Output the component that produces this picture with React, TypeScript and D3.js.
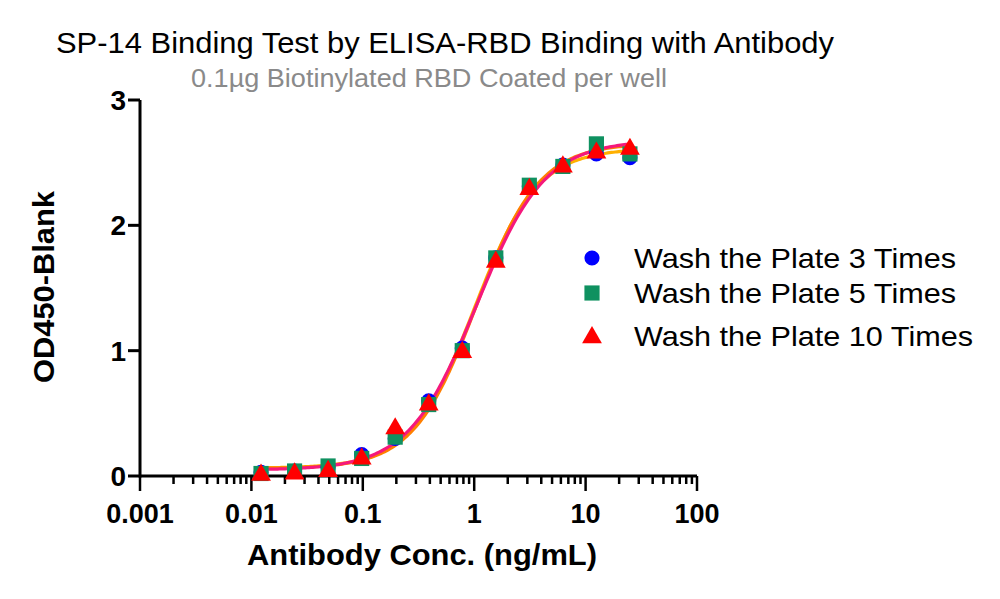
import React, { useEffect, useRef } from 'react';
import * as d3 from 'd3';

// antibody concentrations (ng/mL), 2-fold dilution series
const conc = [0.0122, 0.0244, 0.0488, 0.0977, 0.1953, 0.3906, 0.7813, 1.5625, 3.125, 6.25, 12.5, 25];

// OD450 - blank
const wash3 = [0.03, 0.04, 0.07, 0.17, 0.30, 0.60, 1.02, 1.74, 2.31, 2.48, 2.57, 2.54];
const wash5 = [0.02, 0.04, 0.08, 0.14, 0.31, 0.57, 1.00, 1.74, 2.32, 2.47, 2.65, 2.57];
const wash10 = [0.02, 0.03, 0.05, 0.15, 0.39, 0.58, 1.00, 1.72, 2.30, 2.48, 2.59, 2.62];

const seriesNames = ['Wash the Plate 3 Times', 'Wash the Plate 5 Times', 'Wash the Plate 10 Times'];
const symbolColors = ['#0000ff', '#0f9160', '#ff0000'];
const curveColors = ['#ffb000', '#ff7f00', '#f5187c'];

const xTicks = [0.001, 0.01, 0.1, 1, 10, 100];
const yTicks = [0, 1, 2, 3];

// 4-parameter logistic
const logistic = (p: number[], x: number) =>
  p[0] + (p[1] - p[0]) / (1 + Math.pow(10, (p[2] - Math.log10(x)) * p[3]));

// small Nelder-Mead least squares fit
function fit4PL(xs: number[], ys: number[]) {
  const sse = (p: number[]) => xs.reduce((s, x, i) => s + (ys[i] - logistic(p, x)) ** 2, 0);
  const start = [d3.min(ys)!, d3.max(ys)!, 0, 1];
  let simplex = [start];
  for (let i = 0; i < 4; i++) {
    const p = start.slice();
    p[i] += i === 2 ? 0.5 : i === 3 ? 0.3 : 0.2;
    simplex.push(p);
  }
  let vals = simplex.map(sse);
  for (let iter = 0; iter < 2000; iter++) {
    const order = d3.range(5).sort((a, b) => vals[a] - vals[b]);
    simplex = order.map(i => simplex[i]);
    vals = order.map(i => vals[i]);
    const centroid = [0, 1, 2, 3].map(j => d3.mean(simplex.slice(0, 4), p => p[j])!);
    const worst = simplex[4];
    const pt = (t: number) => centroid.map((c, j) => c + t * (worst[j] - c));
    const r = pt(-1), fr = sse(r);
    if (fr < vals[0]) {
      const e = pt(-2), fe = sse(e);
      if (fe < fr) { simplex[4] = e; vals[4] = fe; } else { simplex[4] = r; vals[4] = fr; }
    } else if (fr < vals[3]) {
      simplex[4] = r; vals[4] = fr;
    } else {
      const c = pt(0.5), fc = sse(c);
      if (fc < vals[4]) { simplex[4] = c; vals[4] = fc; }
      else {
        for (let i = 1; i < 5; i++) {
          simplex[i] = simplex[i].map((v, j) => simplex[0][j] + 0.5 * (v - simplex[0][j]));
          vals[i] = sse(simplex[i]);
        }
      }
    }
  }
  return simplex[d3.minIndex(vals)];
}

const App: React.FC = () => {
  const svgRef = useRef<SVGSVGElement>(null);

  useEffect(() => {
    if (!svgRef.current) return;
    const svg = d3.select(svgRef.current);
    svg.selectAll('*').remove();

    const x = d3.scaleLog().domain([0.001, 100]).range([140, 697]);
    const y = d3.scaleLinear().domain([0, 3]).range([476, 100]);
    const font = 'Arial, "Liberation Sans", Helvetica, sans-serif';

    // titles
    svg.append('text').attr('x', 56).attr('y', 53).attr('textLength', 778)
      .attr('lengthAdjust', 'spacingAndGlyphs')
      .style('font-family', font).style('font-size', '29px').attr('fill', '#000')
      .text('SP-14 Binding Test by ELISA-RBD Binding with Antibody');
    svg.append('text').attr('x', 191).attr('y', 87).attr('textLength', 476)
      .attr('lengthAdjust', 'spacingAndGlyphs')
      .style('font-family', font).style('font-size', '25px').attr('fill', '#8a8a8a')
      .text('0.1\u00b5g Biotinylated RBD Coated per well');

    // axes
    const ax = svg.append('g').attr('stroke', '#000').attr('stroke-width', 3).attr('fill', 'none');
    ax.append('line').attr('x1', x(0.001)).attr('x2', x(100)).attr('y1', y(0)).attr('y2', y(0));
    ax.append('line').attr('x1', x(0.001)).attr('x2', x(0.001)).attr('y1', y(3)).attr('y2', y(0) + 1.5);
    yTicks.forEach(t => {
      ax.append('line').attr('x1', 128).attr('x2', x(0.001)).attr('y1', y(t)).attr('y2', y(t));
    });
    const minor: number[] = [];
    for (let e = -3; e < 2; e++) for (let m = 2; m <= 9; m++) minor.push(m * Math.pow(10, e));
    minor.forEach(t => {
      ax.append('line').attr('x1', x(t)).attr('x2', x(t)).attr('y1', y(0)).attr('y2', y(0) + 8)
        .attr('stroke-width', 2.5);
    });
    xTicks.forEach(t => {
      ax.append('line').attr('x1', x(t)).attr('x2', x(t)).attr('y1', y(0)).attr('y2', y(0) + 15)
        .attr('stroke-width', 2.5);
    });

    svg.append('g').selectAll('text').data(yTicks).join('text')
      .attr('x', 126).attr('y', d => y(d) + 10).attr('text-anchor', 'end')
      .style('font-family', font).style('font-size', '28px').style('font-weight', 'bold')
      .text(d => d);
    svg.append('g').selectAll('text').data(xTicks).join('text')
      .attr('x', d => x(d)).attr('y', 523).attr('text-anchor', 'middle')
      .style('font-family', font).style('font-size', '27px').style('font-weight', 'bold')
      .text(d => String(d));

    svg.append('text').attr('x', 422).attr('y', 565).attr('text-anchor', 'middle')
      .attr('textLength', 350).attr('lengthAdjust', 'spacingAndGlyphs')
      .style('font-family', font).style('font-size', '30px').style('font-weight', 'bold')
      .text('Antibody Conc. (ng/mL)');
    svg.append('text').attr('transform', 'translate(54,287) rotate(-90)').attr('text-anchor', 'middle')
      .attr('textLength', 192).attr('lengthAdjust', 'spacingAndGlyphs')
      .style('font-family', font).style('font-size', '29px').style('font-weight', 'bold')
      .text('OD450-Blank');

    const all = [wash3, wash5, wash10];

    // fitted curves
    const lx0 = Math.log10(conc[0]);
    const lx1 = Math.log10(conc[conc.length - 1]);
    const xs = d3.range(0, 201).map(i => Math.pow(10, lx0 + (i / 200) * (lx1 - lx0)));
    all.forEach((ys, k) => {
      const p = fit4PL(conc, ys);
      svg.append('path').attr('fill', 'none').attr('stroke', curveColors[k]).attr('stroke-width', 3.2)
        .attr('d', d3.line<number>().x(d => x(d)).y(d => y(logistic(p, d)))(xs));
    });

    // symbols
    const symTypes = [d3.symbolCircle, d3.symbolSquare, d3.symbolTriangle];
    const symSizes = [180, 230, 170];
    all.forEach((ys, k) => {
      const sym = d3.symbol().type(symTypes[k]).size(symSizes[k]);
      svg.append('g').selectAll('path').data(conc).join('path')
        .attr('transform', (d, i) => `translate(${x(d)},${y(ys[i]) + (k === 2 ? 1.5 : 0)})`)
        .attr('d', sym()!).attr('fill', symbolColors[k]);
    });

    // legend
    const legY = [258, 293, 336];
    const legLen = [322, 322, 339];
    seriesNames.forEach((name, k) => {
      const sym = d3.symbol().type(symTypes[k]).size(symSizes[k]);
      svg.append('path').attr('transform', `translate(592,${legY[k] + (k === 2 ? 1.5 : 0)})`)
        .attr('d', sym()!).attr('fill', symbolColors[k]);
      svg.append('text').attr('x', 634).attr('y', legY[k] + 10)
        .attr('textLength', legLen[k]).attr('lengthAdjust', 'spacingAndGlyphs')
        .style('font-family', font).style('font-size', '28px').attr('fill', '#000')
        .text(name);
    });
  }, []);

  return (
    <svg ref={svgRef} width={1000} height={599}
      style={{ position: 'absolute', left: 0, top: 0, background: '#fff' }} />
  );
};

export default App;
